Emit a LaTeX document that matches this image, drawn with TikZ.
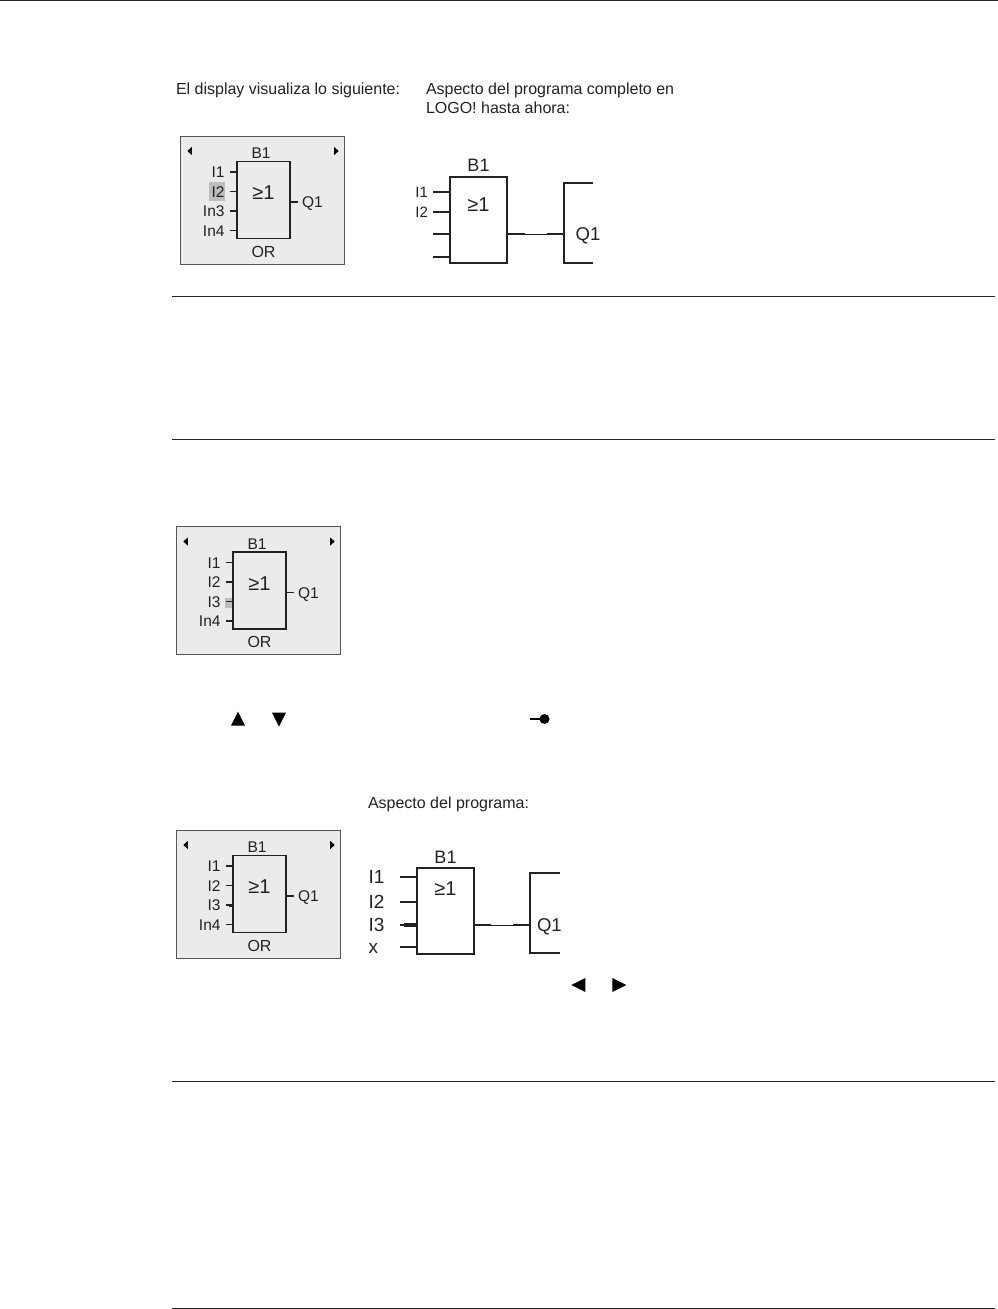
\documentclass[tikz,border=0pt]{standalone}
\usepackage{fontspec}
\setmainfont{Liberation Sans}
\usetikzlibrary{positioning,shapes.geometric}
\definecolor{inkgray}{HTML}{222222}
\definecolor{panelfill}{HTML}{EBEBEB}
\definecolor{panelline}{HTML}{555555}
\definecolor{hilite}{HTML}{BDBDBD}
\tikzset{
  every node/.style={text=inkgray, outer sep=0pt},
  note/.style={anchor=north west, inner sep=0pt, align=left, font=\fontsize{16}{19}\selectfont},
  rulebar/.style={draw=inkgray, line width=0.8pt},
  panelbox/.style={draw=panelline, fill=panelfill, line width=1pt, minimum width=164pt, minimum height=128pt, anchor=north west, inner sep=0pt},
  panelblock/.style={draw=inkgray, line width=1.2pt, minimum width=53pt, minimum height=77pt, inner sep=0pt},
  panellabel/.style={inner xsep=5.5pt, inner ysep=0pt, text height=11.2pt, text depth=0pt, font=\fontsize{15.5}{15.5}\selectfont},
  panelstub/.style={draw=inkgray, line width=1.5pt},
  progblock/.style={draw=inkgray, line width=1.6pt, minimum width=57pt, minimum height=86pt, inner sep=0pt},
  progline/.style={draw=inkgray, line width=1.6pt},
  hairline/.style={draw=inkgray, line width=0.7pt},
  geone/.style={inner sep=0pt, font=\fontsize{20}{20}\selectfont},
  tinytri/.style={isosceles triangle, isosceles triangle stretches, fill=black, inner sep=0pt, minimum height=4.5pt, minimum width=8pt},
  keytri/.style={isosceles triangle, isosceles triangle stretches, fill=black, inner sep=0pt, minimum height=14pt, minimum width=14pt},
}
% display panel, then its block (hilite goes between the two)
\newcommand{\lcdpanel}[3]{%
  \node[panelbox] (#1) at (#2,#3) {};
  \node[tinytri, rotate=180] (#1l) at (#2+10,#3+15) {};
  \node[tinytri] (#1r) at (#2+156,#3+15) {};
}
\newcommand{\lcdblock}[2]{%
  \node[panelblock, below right=25.5pt and 57pt of #1.north west] (#1or) {};
  \node[geone] (#1ge) at (#1or.center) [yshift=7pt] {≥1};
  \node[panellabel, inner xsep=0pt] (#1b) at (#1or.north) [yshift=8.5pt, xshift=-2.5pt] {B1};
  \node[panellabel, inner xsep=0pt, font=\fontsize{16}{16}\selectfont] (#1t) at (#1or.south) [yshift=-13pt] {OR};
  \foreach \lab/\off [count=\n] in {#2}{
    \node[panellabel, left=7pt of #1or.north west, yshift=-\off pt] (#1in\n) {\lab};
    \draw[panelstub] (#1in\n.east) -- (#1in\n.east -| #1or.west);
  }
  \node[panellabel, right=8pt of #1or.north east, yshift=-40.5pt, inner xsep=4pt] (#1q) {Q1};
  \draw[panelstub] (#1q.west) -- (#1q.west -| #1or.east);
}
\begin{document}
\begin{tikzpicture}[x=1pt,y=-1pt]
  \useasboundingbox (0,0) rectangle (998,1309);

  % page rules
  \coordinate (topa) at (0,0.4);      \coordinate (topb) at (998,0.4);
  \coordinate (rula) at (172,296);    \coordinate (rulb) at (995,296);
  \coordinate (rulc) at (172,439);    \coordinate (ruld) at (995,439);
  \coordinate (rule) at (172,1081);   \coordinate (rulf) at (995,1081);
  \coordinate (rulg) at (172,1308);   \coordinate (rulh) at (995,1308);
  \draw[rulebar] (topa) -- (topb);
  \draw[rulebar] (rula) -- (rulb);
  \draw[rulebar] (rulc) -- (ruld);
  \draw[rulebar] (rule) -- (rulf);
  \draw[rulebar] (rulg) -- (rulh);

  % notes
  \node[note] (notea) at (176,83) {El display visualiza lo siguiente:};
  \node[note] (noteb) at (426,83) {Aspecto del programa completo en\\LOGO! hasta ahora:};
  \node[note] (notec) at (368,797) {Aspecto del programa:};

  % first display
  \lcdpanel{dispa}{180}{136}
  \node[fill=hilite, minimum width=16pt, minimum height=19pt, inner sep=0pt, below right=46pt and 29pt of dispa.north west] (hla) {};
  \lcdblock{dispa}{I1/10.5,I2/30,In3/49.5,In4/69}

  % first program
  \node[progblock, anchor=north west] (proga) at (450,177) {};
  \node[geone] (progage) at (proga.north) [yshift=-28pt] {≥1};
  \node[inner sep=0pt, font=\fontsize{18}{18}\selectfont] (progab) at (proga.north) [yshift=12pt] {B1};
  \foreach \lab/\off [count=\n] in {I1/15,I2/35,{}/57,{}/80}{
    \node[inner xsep=5pt, inner ysep=0pt, font=\fontsize{15}{15}\selectfont, left=17pt of proga.north west, yshift=-\off pt, minimum height=1pt] (progain\n) {\lab};
    \draw[progline] (progain\n.east) -- (progain\n.east -| proga.west);
  }
  \coordinate[right=57pt of proga.north east, yshift=-57pt] (progaout);
  \coordinate (progaend) at (proga.east |- progaout);
  \draw[hairline] (progaend) -- (progaout);
  \draw[progline] (progaend) -- ++(18,0);
  \draw[progline] (progaout) -- ++(-17,0);
  \draw[progline] (progaout) ++(29,-51) -- ++(-29,0) -- ++(0,80) -- ++(29,0);
  \node[inner sep=0pt, font=\fontsize{18.5}{18.5}\selectfont] (progaq) at (progaout) [xshift=24pt, yshift=-2pt] {Q1};

  % second display
  \lcdpanel{dispb}{176}{526.5}
  \node[fill=hilite, minimum width=8pt, minimum height=10pt, inner sep=0pt, below right=71pt and 49pt of dispb.north west] (hlb) {};
  \lcdblock{dispb}{I1/10.5,I2/30,I3/49.5,In4/69}

  % keys
  \node[keytri, rotate=90] (keyup) at (238,721.3) {};
  \node[keytri, rotate=-90] (keydown) at (279,717) {};
  \node[circle, fill=black, inner sep=0pt, minimum size=10pt] (jdot) at (544.5,719) {};
  \coordinate[left=10pt of jdot] (jstub);
  \draw[draw=black, line width=1.8pt] (jstub) -- (jdot);

  % third display
  \lcdpanel{dispc}{176}{830}
  \lcdblock{dispc}{I1/10.5,I2/30,I3/49.5,In4/69}
  \draw[panelstub, line width=3pt] (dispcin3.east -| dispcor.west) -- ++(-4,0);

  % second program
  \node[progblock, anchor=north west] (progb) at (417,868) {};
  \node[geone] (progbge) at (progb.north) [yshift=-21pt] {≥1};
  \node[inner sep=0pt, font=\fontsize{18}{18}\selectfont] (progbb) at (progb.north) [yshift=11pt] {B1};
  \foreach \lab/\off [count=\n] in {I1/9,I2/34,I3/57,x/79}{
    \node[inner xsep=0pt, inner ysep=0pt, text height=13.6pt, text depth=0pt, font=\fontsize{19}{19}\selectfont, left=17.5pt of progb.north west, yshift=-\off pt, align=left, text width=31pt] (progbin\n) {\lab};
    \draw[progline] (progbin\n.east) -- (progbin\n.east -| progb.west);
  }
  \draw[progline, line width=4pt] (progbin3.east -| progb.west) -- ++(-13,0);
  \coordinate[right=56pt of progb.north east, yshift=-57pt] (progbout);
  \coordinate (progbend) at (progb.east |- progbout);
  \draw[hairline] (progbend) -- (progbout);
  \draw[progline] (progbend) -- ++(17,0);
  \draw[progline] (progbout) -- ++(-17,0);
  \draw[progline] (progbout) ++(30,-52) -- ++(-30,0) -- ++(0,80) -- ++(30,0);
  \node[inner sep=0pt, font=\fontsize{18.5}{18.5}\selectfont, anchor=west] (progbq) at (progbout) [xshift=7pt, yshift=-2pt] {Q1};

  % keys under the second program
  \node[keytri, rotate=180] (keyleft) at (581,985) {};
  \node[keytri] (keyright) at (616.7,985) {};
\end{tikzpicture}
\end{document}
